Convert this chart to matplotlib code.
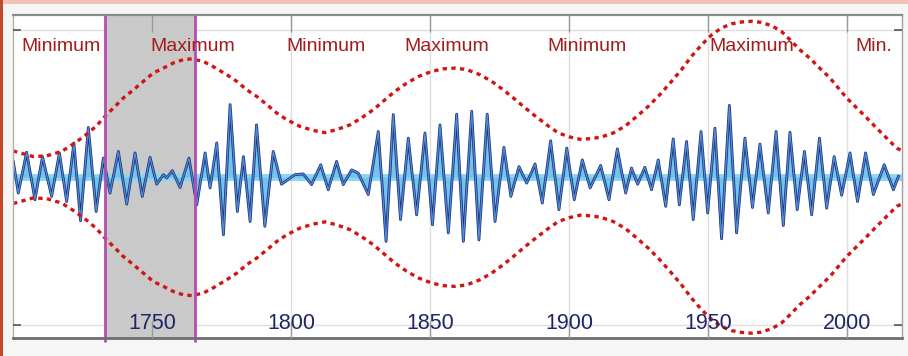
import matplotlib
matplotlib.use("Agg")
import matplotlib.pyplot as plt
import matplotlib.transforms as mtransforms
from matplotlib.patches import Rectangle

# ---- data ----
wave_years = [1700.1, 1701.9, 1704.9, 1707.9, 1710.6, 1713.9, 1716.7, 1719.3, 1721.9, 1724.3,
              1727.1, 1729.9, 1732.5, 1734.9, 1737.9, 1740.9, 1743.9, 1746.5, 1749.3, 1751.7,
              1754.1, 1755.3, 1757.3, 1760.1, 1763.3, 1766.1, 1769.1, 1770.9, 1773.3, 1775.7,
              1778.1, 1780.7, 1782.9, 1785.3, 1787.6, 1790.6, 1793.6, 1796.6, 1801.4, 1804.4,
              1807.4, 1810.7, 1813.4, 1816.4, 1818.8, 1821.8, 1824.2, 1827.8, 1831.4, 1834.2,
              1836.8, 1839.4, 1842.2, 1845.2, 1848.2, 1850.9, 1853.6, 1856.6, 1859.6, 1862.0,
              1865.0, 1867.6, 1870.6, 1873.4, 1876.6, 1879.1, 1882.0, 1884.8, 1887.8, 1890.4,
              1893.4, 1896.4, 1899.2, 1901.9, 1904.8, 1907.6, 1911.4, 1914.4, 1917.4, 1920.4,
              1922.5, 1924.7, 1927.3, 1929.7, 1932.1, 1934.8, 1937.5, 1939.7, 1942.3, 1944.7,
              1947.5, 1949.9, 1952.5, 1954.9, 1957.7, 1960.3, 1963.3, 1966.0, 1968.7, 1971.7,
              1974.5, 1977.1, 1979.5, 1982.1, 1984.7, 1987.3, 1990.1, 1992.7, 1995.4, 1998.1,
              2001.1, 2003.8, 2006.7, 2009.5, 2013.4, 2016.7, 2018.5]
wave_values = [43, -43, 68, -61, 56, -52, 66, -66, 93, -118,
               135, -93, 52, -43, 70, -73, 66, -52, 54, -19,
               7, -2, 18, -28, 52, -75, 66, -29, 93, -156,
               197, -93, 56, -120, 142, -133, 70, -19, 7, 9,
               -20, 34, -34, 43, -20, 20, 11, -47, 124, -174,
               170, -115, 106, -102, 120, -129, 142, -151, 171, -174,
               179, -170, 171, -120, 81, -52, 29, -16, 36, -70,
               99, -88, 79, -61, 47, -29, 32, -61, 77, -43,
               25, -19, 27, -34, 47, -79, 104, -75, 97, -115,
               124, -97, 133, -167, 195, -151, 106, -82, 90, -97,
               124, -131, 122, -88, 70, -102, 106, -84, 56, -49,
               66, -66, 66, -47, 34, -34, 2]

env_years = [1700.0, 1700.7, 1707.3, 1712.1, 1717.5, 1722.3, 1727.1, 1730.1, 1733.7, 1736.7,
             1739.7, 1743.3, 1746.9, 1750.5, 1754.1, 1757.7, 1761.3, 1764.3, 1768.5, 1772.0,
             1776.9, 1780.5, 1784.1, 1787.7, 1791.3, 1794.9, 1798.5, 1801.4, 1803.2, 1808.0,
             1812.2, 1816.4, 1821.2, 1825.4, 1829.6, 1833.8, 1837.4, 1841.6, 1845.8, 1850.6,
             1854.8, 1859.0, 1863.2, 1868.0, 1872.2, 1876.4, 1880.0, 1883.6, 1887.2, 1892.0,
             1896.2, 1900.4, 1904.6, 1908.7, 1911.2, 1915.9, 1920.1, 1924.4, 1928.5, 1932.7,
             1936.9, 1940.5, 1944.1, 1947.7, 1951.3, 1954.9, 1958.5, 1962.1, 1965.7, 1969.1,
             1972.9, 1976.5, 1979.5, 1983.0, 1986.6, 1990.2, 1993.9, 1996.9, 1999.9, 2003.5,
             2007.1, 2010.7, 2014.3, 2017.9, 2019.8]
env_amp = [70, 70, 56, 58, 70, 93, 120, 140, 170, 192,
           215, 237, 260, 283, 296, 310, 319, 321, 314, 300,
           278, 260, 237, 219, 197, 174, 156, 145, 138, 127,
           121, 129, 142, 161, 183, 210, 233, 255, 273, 287,
           294, 296, 292, 278, 260, 237, 215, 192, 170, 142,
           120, 109, 102, 106, 108, 120, 138, 165, 192, 224,
           260, 292, 328, 359, 386, 405, 416, 421, 423, 420,
           411, 395, 373, 346, 323, 296, 269, 242, 215, 188,
           161, 133, 106, 79, 72]

label_years = [1717.3, 1764.7, 1812.6, 1856.1, 1906.5, 1965.8, 2009.7]
label_texts = ["Minimum", "Maximum", "Minimum", "Maximum", "Minimum", "Maximum", "Min."]
tick_years = [1750, 1800, 1850, 1900, 1950, 2000]
grid_levels = [-400, 400]
shade_start, shade_end = 1733.1, 1765.5

# ---- figure ----
fig = plt.figure(figsize=(9.08, 3.56), dpi=100)
fig.patch.set_facecolor("#f6f6f6")
# slide frame edges
fig.patches.append(Rectangle((0, 1 - 4 / 356), 1, 4 / 356, transform=fig.transFigure,
                             color="#f1c3b4", lw=0, zorder=0))
fig.patches.append(Rectangle((0, 0), 3 / 908, 1, transform=fig.transFigure,
                             color="#c24a2a", lw=0, zorder=0))

ax = fig.add_axes([13 / 908, 18 / 356, 889 / 908, 323 / 356])
ax.set_facecolor("white")
ax.set_xlim(1700, 2019.8)
ax.set_ylim(-436, 440)

# light grid (drawn manually, underneath everything)
for t in tick_years:
    ax.axvline(t, color="#dedede", lw=1, zorder=0.5)
for g in grid_levels:
    ax.axhline(g, color="#dedede", lw=1, zorder=0.5)

# shaded interval
ax.axvspan(shade_start, shade_end, color="#c9c9c9", lw=0, zorder=1)
trans = mtransforms.blended_transform_factory(ax.transData, ax.transAxes)
for xv in (shade_start, shade_end):
    ax.plot([xv, xv], [-0.012, 1.0], transform=trans, color="#b34db3", lw=2.0,
            zorder=7, clip_on=False, solid_capstyle="butt")

# zero band and signal
ax.axhline(0, color="#8ad6f1", lw=5, zorder=2)
ax.fill_between(wave_years, 0, wave_values, color="#72c4ec", lw=0, zorder=3)
ax.plot(wave_years, wave_values, color="#1f2f7c", lw=2.0, zorder=4,
        solid_joinstyle="round")
ax.plot(wave_years, wave_values, color="#4f8ed4", lw=0.9, zorder=5,
        solid_joinstyle="round")

# envelope
ax.plot(env_years, env_amp, color="#d01515", lw=2.4, ls=(0, (1.3, 1.3)), zorder=6)
ax.plot(env_years, [-a for a in env_amp], color="#d01515", lw=2.4, ls=(0, (1.3, 1.3)),
        zorder=6)

# labels
for yr, txt in zip(label_years, label_texts):
    ax.text(yr, 354, txt, ha="center", va="center", fontsize=14, color="#a31c1c",
            family="Liberation Sans", zorder=8)

# axes cosmetics
ax.grid(False)
ax.set_axisbelow(False)
ax.set_xticks(tick_years)
ax.set_xticklabels([str(t) for t in tick_years], family="Liberation Sans")
ax.set_yticks(grid_levels)
ax.set_yticklabels([])
ax.tick_params(axis="x", direction="in", top=True, length=12, width=1, color="#9a9a9a",
               pad=-18, labelsize=15.5, labelcolor="#1f2566")
ax.tick_params(axis="y", direction="in", left=True, right=True, length=6, width=1.2,
               color="#555555")
ax.xaxis.set_zorder(9)
ax.yaxis.set_zorder(9)
for side, col, lw in (("top", "#8a8a8a", 1.6), ("bottom", "#6e6e6e", 2.0),
                      ("left", "#b0b0b0", 1.0), ("right", "#a0a0a0", 1.0)):
    ax.spines[side].set_color(col)
    ax.spines[side].set_linewidth(lw)
    ax.spines[side].set_zorder(9)

fig.savefig("out.png", dpi=100, facecolor=fig.get_facecolor())
